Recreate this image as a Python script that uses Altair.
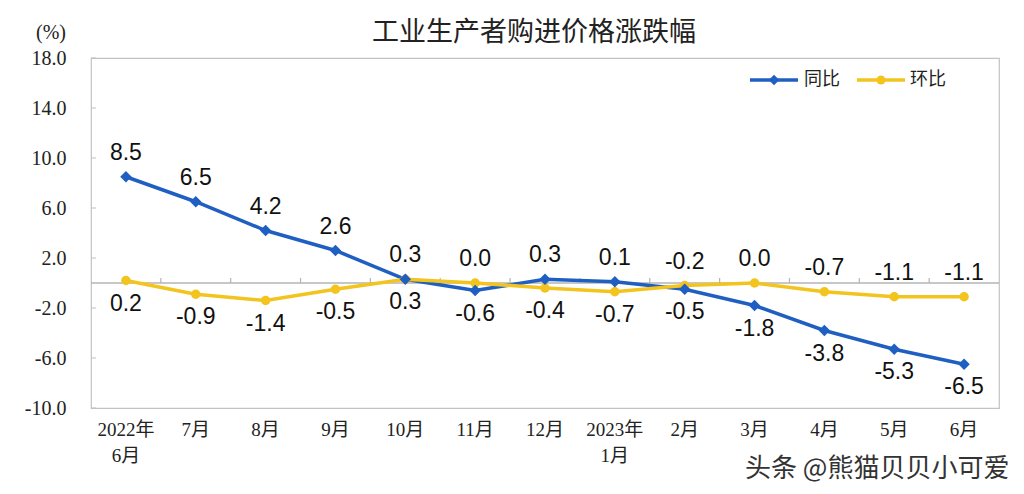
import altair as alt
import pandas as pd

months = ["2022年|6月", "7月", "8月", "9月", "10月", "11月", "12月",
          "2023年|1月", "2月", "3月", "4月", "5月", "6月"]
yoy = [8.5, 6.5, 4.2, 2.6, 0.3, -0.6, 0.3, 0.1, -0.5, -1.8, -3.8, -5.3, -6.5]
mom = [0.2, -0.9, -1.4, -0.5, 0.3, 0.0, -0.4, -0.7, -0.2, 0.0, -0.7, -1.1, -1.1]
y_ticks = [-10, -6, -2, 2, 6, 10, 14, 18]
series_names = ["同比", "环比"]
colors = ["#1f5fc2", "#f3c41e"]
chart_title = "工业生产者购进价格涨跌幅"

rows = []
for i, m in enumerate(months):
    a, b = yoy[i], mom[i]
    rows.append({"month": m, "series": "同比", "value": a,
                 "label": f"{a:.1f}", "pos": "above" if a >= b else "below"})
    rows.append({"month": m, "series": "环比", "value": b,
                 "label": f"{b:.1f}", "pos": "above" if b > a else "below"})
df = pd.DataFrame(rows)

W, H = 908, 350
xscale = alt.Scale(type="point", domain=months, padding=0.5)
yscale = alt.Scale(domain=[-10, 18], nice=False, zero=False)

x_enc = alt.X("month:N", scale=xscale, sort=months, title=None,
              axis=alt.Axis(labels=False, ticks=False, domain=False))
y_enc = alt.Y("value:Q", scale=yscale, title=None,
              axis=alt.Axis(values=y_ticks, ticks=False, domain=False, grid=False,
                            labelExpr="replace(format(datum.value, '.1f'), '\u2212', '-')",
                            labelFont="Liberation Serif", labelFontSize=20,
                            labelColor="#222", labelPadding=25))

color_enc = alt.Color("series:N", scale=alt.Scale(domain=series_names, range=colors), legend=None)

base = alt.Chart(df)

# x category labels (two-line where needed)
xlab_df = pd.DataFrame({"month": months})
x_labels = alt.Chart(xlab_df).mark_text(
    font="Liberation Serif, Noto Sans CJK SC", fontSize=19, color="#222",
    align="center", baseline="top", lineBreak="|", lineHeight=26).encode(
    x=alt.X("month:N", scale=xscale, sort=months), y=alt.value(H + 13), text="month:N")

zero_df = pd.DataFrame({"value": [0]})
zero_line = alt.Chart(zero_df).mark_rule(color="#b4b4b4", strokeWidth=1.5).encode(
    y=alt.Y("value:Q", scale=yscale))

bound_df = pd.DataFrame({"month": months[:-1], "value": [0] * (len(months) - 1)})
bound_ticks = alt.Chart(bound_df).mark_rule(color="#b4b4b4", strokeWidth=1.2,
                                            xOffset=W / len(months) / 2).encode(
    x=alt.X("month:N", scale=xscale, sort=months),
    y=alt.Y("value:Q", scale=yscale),
    y2=alt.value(H * 18 / 28 - 5))

ytick_df = pd.DataFrame({"value": y_ticks})
y_inner = alt.Chart(ytick_df).mark_rule(color="#c0c0c0", strokeWidth=1).encode(
    y=alt.Y("value:Q", scale=yscale), x=alt.value(0), x2=alt.value(5))

lines = base.mark_line(strokeWidth=3.5).encode(
    x=x_enc, y=y_enc, color=color_enc, detail="series:N")

pts_yoy = base.transform_filter(alt.datum.series == "同比").mark_point(
    shape="diamond", filled=True, size=130, opacity=1, color=colors[0]).encode(
    x=alt.X("month:N", scale=xscale, sort=months), y=alt.Y("value:Q", scale=yscale))
pts_mom = base.transform_filter(alt.datum.series == "环比").mark_point(
    shape="circle", filled=True, size=90, opacity=1, color=colors[1]).encode(
    x=alt.X("month:N", scale=xscale, sort=months), y=alt.Y("value:Q", scale=yscale))

lab_font = "Liberation Sans"
lab_above = base.transform_filter(alt.datum.pos == "above").mark_text(
    font=lab_font, fontSize=23, color="#111", dy=-24, baseline="middle").encode(
    x=alt.X("month:N", scale=xscale, sort=months), y=alt.Y("value:Q", scale=yscale),
    text="label:N")
lab_below = base.transform_filter(alt.datum.pos == "below").mark_text(
    font=lab_font, fontSize=23, color="#111", dy=23, baseline="middle").encode(
    x=alt.X("month:N", scale=xscale, sort=months), y=alt.Y("value:Q", scale=yscale),
    text="label:N")

unit_df = pd.DataFrame({"t": ["(%)"]})
unit = alt.Chart(unit_df).mark_text(font="Liberation Serif", fontSize=20, color="#222",
                                    align="right", baseline="middle").encode(
    text="t:N", x=alt.value(-25), y=alt.value(-25))

# legend
leg_line_yoy = alt.Chart(unit_df).mark_rule(color=colors[0], strokeWidth=3.5).encode(
    x=alt.value(659), x2=alt.value(707), y=alt.value(22))
leg_pt_yoy = alt.Chart(unit_df).mark_point(shape="diamond", filled=True, size=110,
                                           opacity=1, color=colors[0]).encode(
    x=alt.value(683), y=alt.value(22))
leg_line_mom = alt.Chart(unit_df).mark_rule(color=colors[1], strokeWidth=3.5).encode(
    x=alt.value(766), x2=alt.value(814), y=alt.value(22))
leg_pt_mom = alt.Chart(unit_df).mark_point(shape="circle", filled=True, size=80,
                                           opacity=1, color=colors[1]).encode(
    x=alt.value(790), y=alt.value(22))
leg_df = pd.DataFrame({"t": series_names})
leg_text_yoy = alt.Chart(leg_df).transform_filter(alt.datum.t == "同比").mark_text(
    font="Noto Sans CJK SC", fontSize=18, color="#222", align="left", baseline="middle").encode(
    text="t:N", x=alt.value(713), y=alt.value(22))
leg_text_mom = alt.Chart(leg_df).transform_filter(alt.datum.t == "环比").mark_text(
    font="Noto Sans CJK SC", fontSize=18, color="#222", align="left", baseline="middle").encode(
    text="t:N", x=alt.value(819), y=alt.value(22))

wm_df = pd.DataFrame({"t": ["头条 @熊猫贝贝小可爱"]})
watermark = alt.Chart(wm_df).mark_text(font="Noto Sans CJK SC", fontSize=26, color="#333",
                                       align="left", baseline="middle").encode(
    text="t:N", x=alt.value(654), y=alt.value(411))

chart = alt.layer(
    zero_line, bound_ticks, y_inner, lines, pts_mom, pts_yoy, lab_above, lab_below,
    x_labels, unit, leg_line_yoy, leg_pt_yoy, leg_line_mom, leg_pt_mom,
    leg_text_yoy, leg_text_mom, watermark
).properties(
    width=W, height=H,
    title=alt.TitleParams(chart_title, font="Noto Sans CJK SC", fontSize=27,
                          fontWeight="normal", color="#222", anchor="middle",
                          frame="group", dx=-11, offset=-24),
    autosize=alt.AutoSizeParams(type="none"),
    padding={"left": 83, "top": 50, "right": 17, "bottom": 78},
).configure_view(stroke="#c3c3c3", strokeWidth=1.2)

chart.save("out.html", embed_options={"renderer": "svg", "actions": False})
